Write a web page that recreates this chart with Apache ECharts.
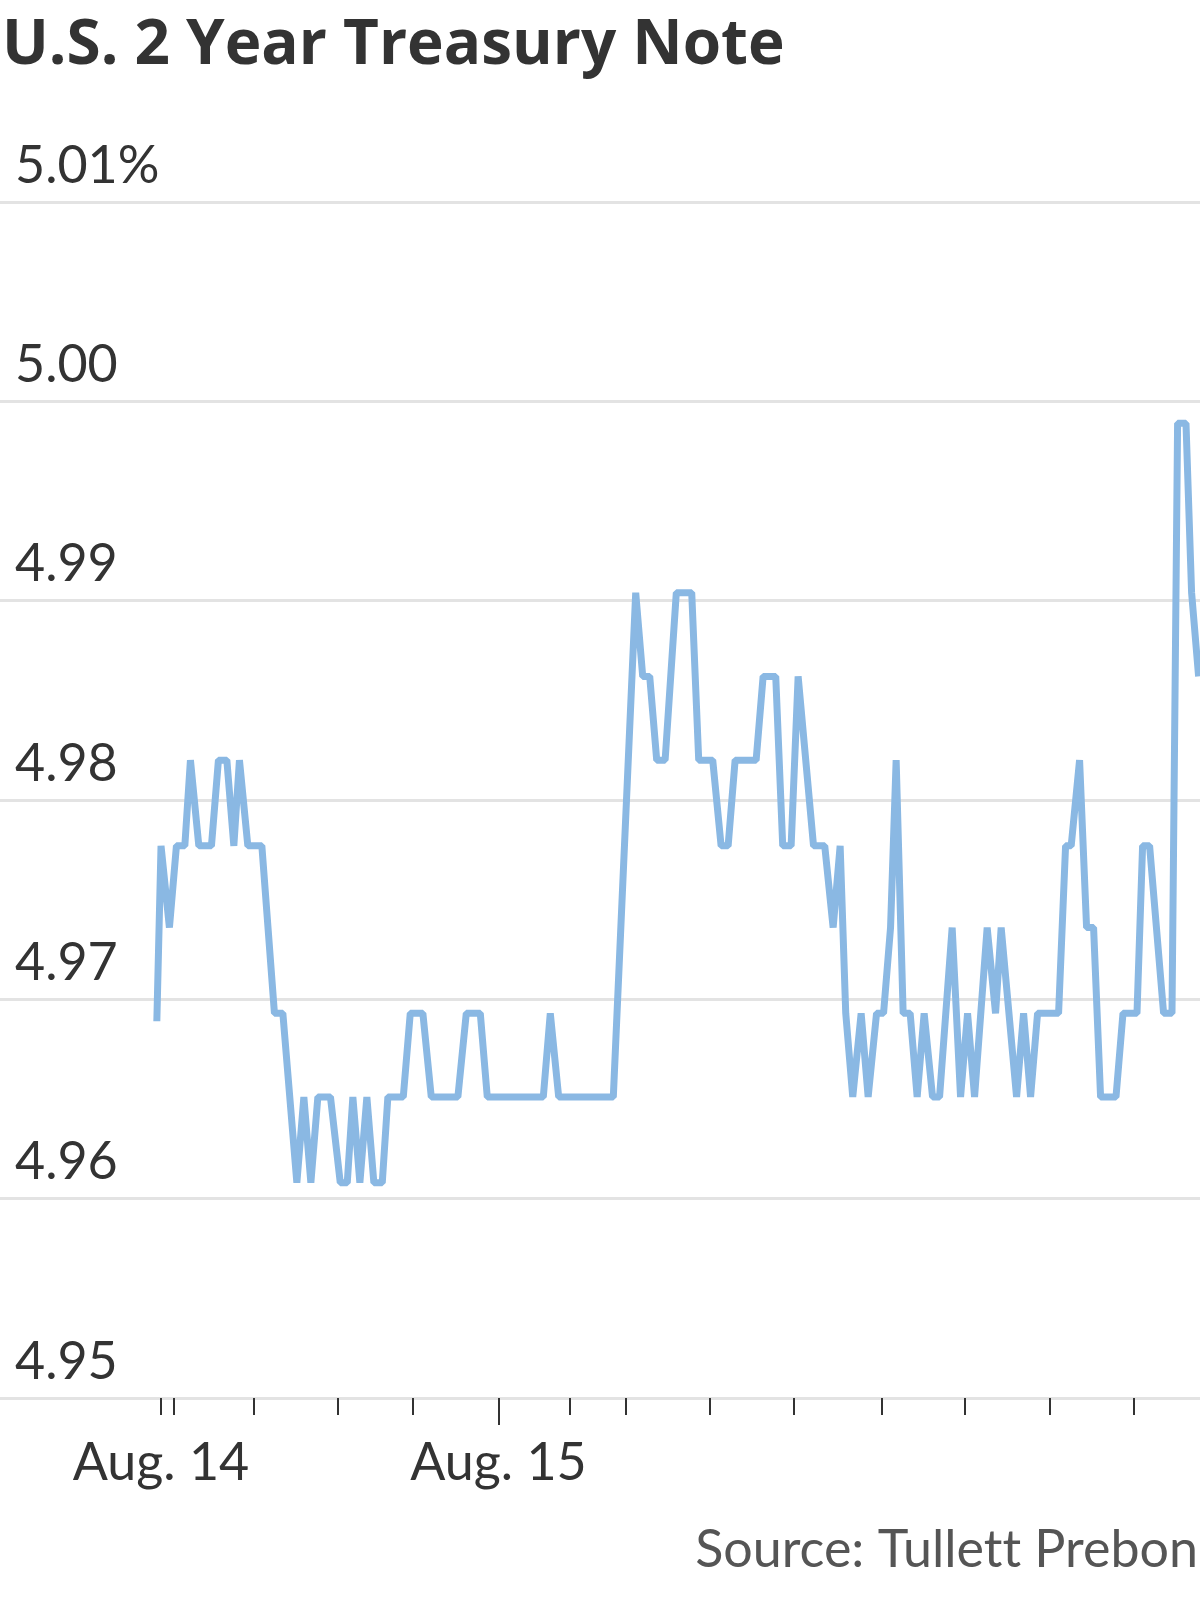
<!DOCTYPE html>
<html>
<head>
<meta charset="utf-8">
<script src="https://cdn.jsdelivr.net/npm/echarts@6/dist/echarts.min.js"></script>
<style>
  html, body { margin: 0; padding: 0; background: #fff; }
  #chart { width: 1200px; height: 1600px; }
</style>
</head>
<body>
<div id="chart"></div>
<script>
// Minutes relative to the "Aug. 14" tick
const times = [-3,0,6,11,17,21,27,36,41,47,52,56,62,72,81,87,97,102,107,112,
  121,128,133,137,142,147,152,158,162,173,178,187,193,212,218,228,233,273,278,284,
  323,339,344,349,354,360,368,379,384,394,400,405,410,425,430,439,444,450,455,466,
  474,480,485,489,494,500,505,511,516,521,525,530,535,540,545,551,556,565,571,576,
  581,590,596,600,611,616,621,626,641,646,650,656,661,666,671,682,687,697,701,706,
  716,722,726,732,736,741];

const yields = [4.9689,4.9777,4.9736,4.9777,4.9777,4.9820,4.9777,4.9777,4.9820,4.9820,
  4.9777,4.9820,4.9777,4.9777,4.9693,4.9693,4.9608,4.9651,4.9608,4.9651,
  4.9651,4.9608,4.9608,4.9651,4.9608,4.9651,4.9608,4.9608,4.9651,4.9651,
  4.9693,4.9693,4.9651,4.9651,4.9693,4.9693,4.9651,4.9651,4.9693,4.9651,
  4.9651,4.9904,4.9862,4.9862,4.9820,4.9820,4.9904,4.9904,4.9820,4.9820,
  4.9777,4.9777,4.9820,4.9820,4.9862,4.9862,4.9777,4.9777,4.9862,4.9777,
  4.9777,4.9736,4.9777,4.9693,4.9651,4.9693,4.9651,4.9693,4.9693,4.9736,
  4.9820,4.9693,4.9693,4.9651,4.9693,4.9651,4.9651,4.9736,4.9651,4.9693,
  4.9651,4.9736,4.9693,4.9736,4.9651,4.9693,4.9651,4.9693,4.9693,4.9777,
  4.9777,4.9820,4.9736,4.9736,4.9651,4.9651,4.9693,4.9693,4.9777,4.9777,
  4.9693,4.9693,4.9989,4.9989,4.9904,4.9862];

const tickTimes = [0, 9, 66, 126, 180, 241, 292, 332, 392, 452, 515, 574, 635, 695];
const majorTickTimes = [241];
const xLabelTimes = [0, 241];
const xLabels = ['Aug. 14', 'Aug. 15'];
const yTickLabels = ['4.95', '4.96', '4.97', '4.98', '4.99', '5.00', '5.01%'];

const pairs = times.map((t, i) => [t, yields[i]]);

const chart = echarts.init(document.getElementById('chart'), null, { renderer: 'canvas' });
const FONT = 'Lato, "Noto Sans", sans-serif';
const tickStyle = { color: '#333333', width: 2 };

chart.setOption({
  animation: false,
  backgroundColor: '#ffffff',
  title: [
    {
      text: 'U.S. 2 Year Treasury Note',
      left: 2, top: 15, padding: 0,
      textStyle: { fontFamily: '"Open Sans", Lato, sans-serif', fontWeight: 'bold', fontSize: 62, color: '#333333' }
    },
    {
      // zero-width non-joiner keeps "tt" from forming a ligature
      text: 'Source: Tullet\u200Ct Prebon',
      right: 2, top: 1524, padding: 0,
      textStyle: { fontFamily: FONT, fontWeight: 'normal', fontSize: 52, color: '#555555' }
    }
  ],
  grid: { left: 0, right: 0, top: 202, bottom: 202, containLabel: false },
  xAxis: [
    {
      type: 'value', min: -115, max: 742,
      axisLine: { show: false },
      splitLine: { show: false },
      axisTick: { show: true, customValues: tickTimes, length: 17, lineStyle: tickStyle },
      axisLabel: {
        customValues: xLabelTimes,
        formatter: (v) => xLabels[xLabelTimes.indexOf(v)] || '',
        fontFamily: FONT, fontSize: 52, color: '#333333', margin: 39
      }
    },
    {
      type: 'value', min: -115, max: 742, position: 'bottom',
      axisLine: { show: false },
      splitLine: { show: false },
      axisTick: { show: true, customValues: majorTickTimes, length: 27, lineStyle: tickStyle },
      axisLabel: { show: false }
    }
  ],
  yAxis: {
    type: 'value', min: 4.95, max: 5.01, interval: 0.01,
    axisLine: { show: false },
    axisTick: { show: false },
    splitLine: { show: true, lineStyle: { color: '#e3e3e3', width: 3 } },
    axisLabel: {
      inside: true, margin: 15, verticalAlign: 'bottom',
      padding: [0, 0, 10, 0],
      formatter: (v) => yTickLabels[Math.round((v - 4.95) / 0.01)],
      fontFamily: FONT, fontSize: 52, color: '#333333'
    }
  },
  series: [{
    type: 'line',
    xAxisIndex: 0,
    data: pairs,
    symbol: 'none',
    showSymbol: false,
    lineStyle: { color: '#8ab8e3', width: 7 },
    clip: true
  }]
});
</script>
</body>
</html>
